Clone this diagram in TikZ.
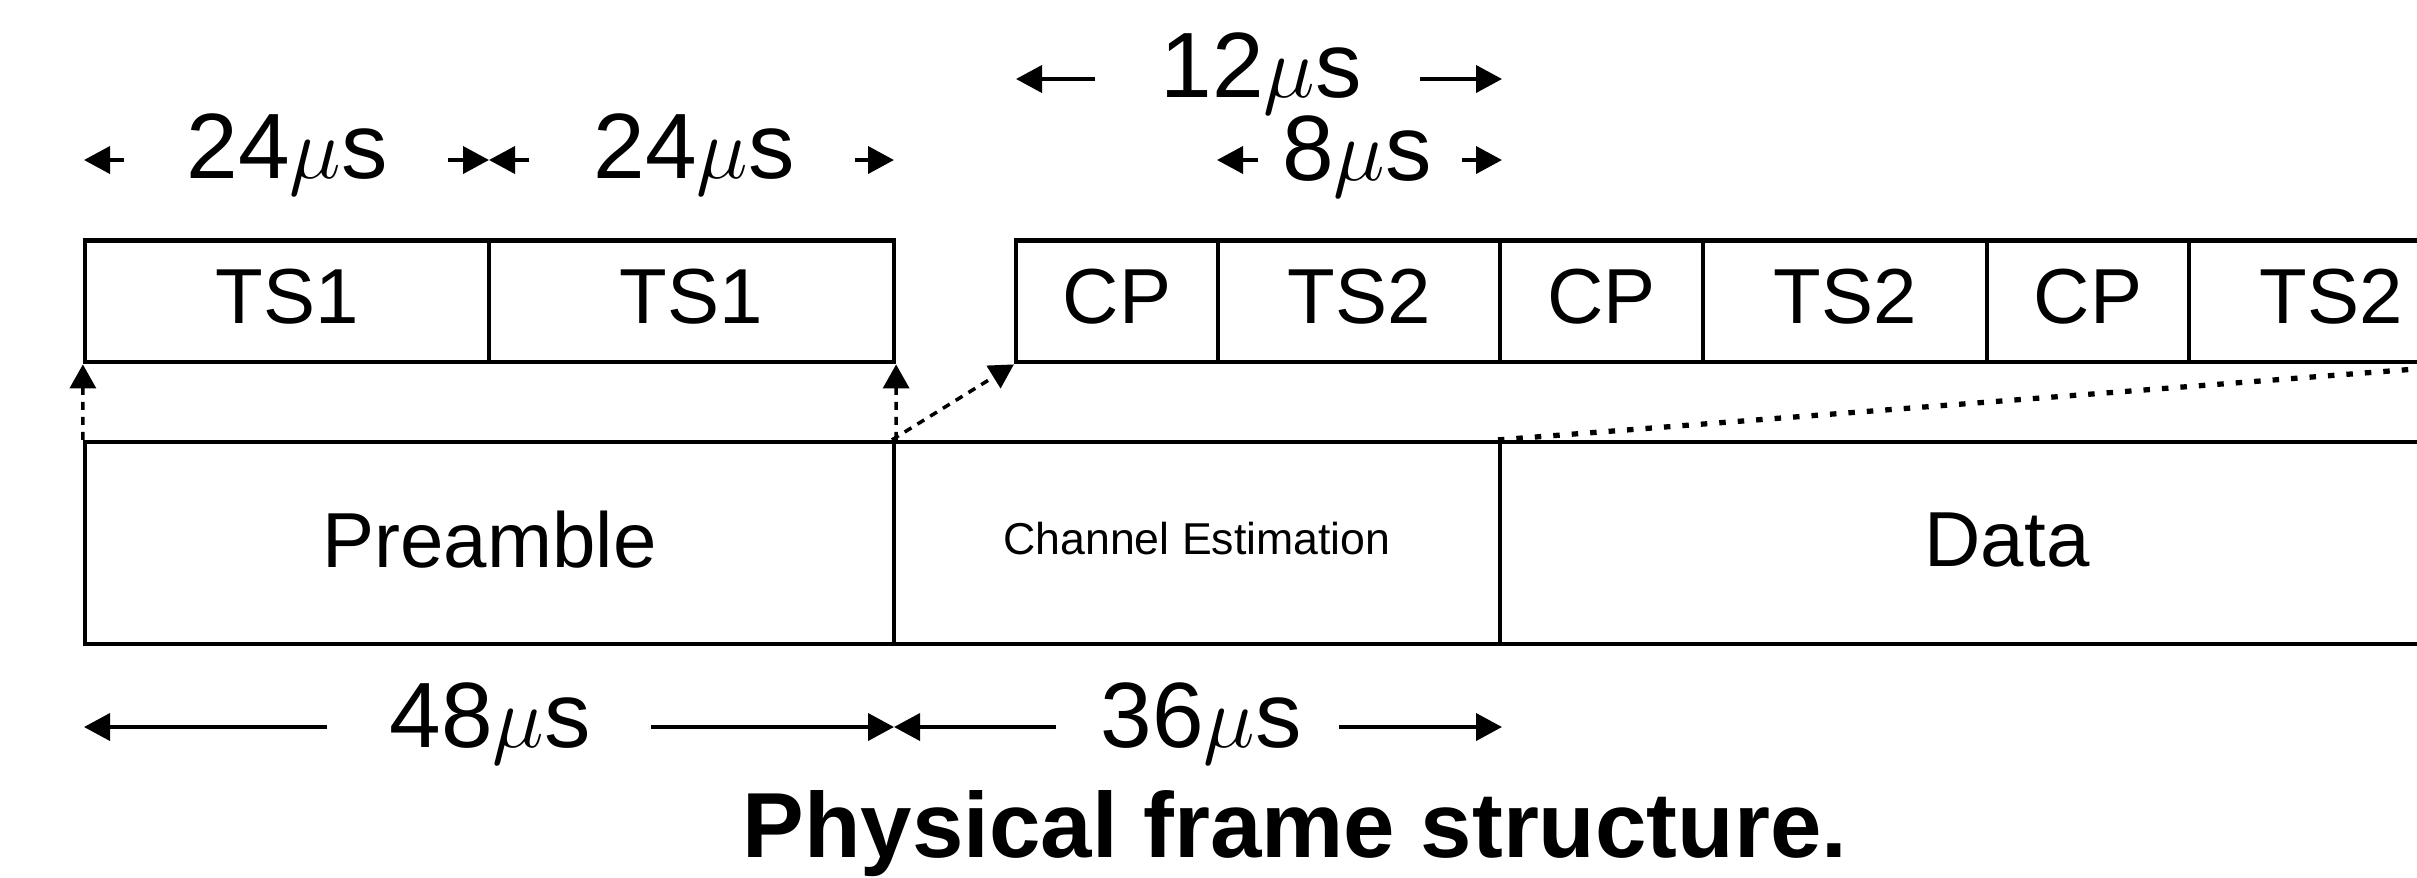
\documentclass[tikz,border=0pt]{standalone}
\usepackage{fontspec}
\setmainfont{Liberation Sans}
\usetikzlibrary{arrows.meta}
\begin{document}
\begin{tikzpicture}[x=1cm,y=-1cm,
  cell/.style={draw, line width=1.2pt, inner sep=0pt, minimum height=1.218cm,
    text depth=0.1cm, font=\fontsize{22.2}{24}\selectfont},
  band/.style={draw, line width=1.2pt, inner sep=0pt, minimum height=2.02cm,
    text depth=0.07cm, font=\fontsize{22.2}{24}\selectfont},
  dimlabel/.style={anchor=base, inner sep=0pt, font=\fontsize{26.4}{28}\selectfont},
  dimarrow/.style={line width=1.1pt, -{Triangle[length=0.26cm,width=0.27cm]}},
  linkarrow/.style={line width=1pt, dash pattern=on 0.08cm off 0.07cm,
    -{Triangle[length=0.24cm,width=0.26cm]}},
  linkdots/.style={line width=1.5pt, dash pattern=on 0.065cm off 0.12cm},
]
\useasboundingbox (0,0) rectangle (24.17,8.77);
\clip (0,0) rectangle (24.17,8.77);

% preamble training symbols
\node[cell, minimum width=4.04cm] (ts1a) at (2.87,3.014) {TS1};
\node[cell, minimum width=4.05cm] (ts1b) at (6.915,3.014) {TS1};

% channel estimation symbols with cyclic prefixes
\node[cell, minimum width=2.02cm] (cp1)  at (11.17,3.014) {CP};
\node[cell, minimum width=2.82cm] (ts2a) at (13.59,3.014) {TS2};
\node[cell, minimum width=2.03cm] (cp2)  at (16.015,3.014) {CP};
\node[cell, minimum width=2.84cm] (ts2b) at (18.45,3.014) {TS2};
\node[cell, minimum width=2.02cm] (cp3)  at (20.88,3.014) {CP};
\node[cell, minimum width=2.84cm] (ts2c) at (23.31,3.014) {TS2};

% physical frame
\node[band, minimum width=8.09cm]  (pre)  at (4.895,5.43) {Preamble};
\node[band, minimum width=6.06cm, font=\fontsize{12.7}{14}\selectfont, text depth=0.1cm]
  (chan) at (11.97,5.43) {Channel Estimation};
\node[band, minimum width=10.14cm] (data) at (20.07,5.43) {Data};

% expansion links
\draw[linkarrow] (pre.north west) -- (ts1a.south west);
\draw[linkarrow] (pre.north east) -- (ts1b.south east);
\draw[linkarrow] (chan.north west) -- (cp1.south west);
\draw[linkdots]  (data.north west) -- (ts2c.south east);

% durations of the training symbols
\node[dimlabel] (l24a) at (2.87,1.78) {24$\mu$s};
\node[dimlabel] (l24b) at (6.94,1.78) {24$\mu$s};
\coordinate (a0) at (0.84,1.60);  \coordinate (a1) at (1.24,1.60);
\coordinate (a2) at (4.48,1.60);  \coordinate (a3) at (4.89,1.60);
\coordinate (a4) at (5.29,1.60);  \coordinate (a5) at (8.55,1.60);
\coordinate (a6) at (8.94,1.60);
\draw[dimarrow] (a1) -- (a0);
\draw[dimarrow] (a2) -- (a3);
\draw[dimarrow] (a4) -- (a3);
\draw[dimarrow] (a5) -- (a6);

\node[dimlabel] (l12) at (12.61,0.97) {12$\mu$s};
\coordinate (b0) at (10.16,0.79); \coordinate (b1) at (10.95,0.79);
\coordinate (b2) at (14.20,0.79); \coordinate (b3) at (15.02,0.79);
\draw[dimarrow] (b1) -- (b0);
\draw[dimarrow] (b2) -- (b3);

\node[dimlabel] (l8) at (13.57,1.80) {8$\mu$s};
\coordinate (c0) at (12.17,1.60); \coordinate (c1) at (12.58,1.60);
\coordinate (c2) at (14.62,1.60); \coordinate (c3) at (15.02,1.60);
\draw[dimarrow] (c1) -- (c0);
\draw[dimarrow] (c2) -- (c3);

% durations of the frame parts
\node[dimlabel] (l48) at (4.90,7.47) {48$\mu$s};
\node[dimlabel] (l36) at (12.01,7.47) {36$\mu$s};
\coordinate (e0) at (0.84,7.27);  \coordinate (e1) at (3.27,7.27);
\coordinate (e2) at (6.51,7.27);  \coordinate (e3) at (8.94,7.27);
\coordinate (e4) at (10.56,7.27); \coordinate (e5) at (13.39,7.27);
\coordinate (e6) at (15.02,7.27);
\draw[dimarrow] (e1) -- (e0);
\draw[dimarrow] (e2) -- (e3);
\draw[dimarrow] (e4) -- (e3);
\draw[dimarrow] (e5) -- (e6);

\node[anchor=base, inner sep=0pt, font=\bfseries\fontsize{26.3}{28}\selectfont]
  (title) at (12.95,8.57) {Physical frame structure.};
\end{tikzpicture}
\end{document}
